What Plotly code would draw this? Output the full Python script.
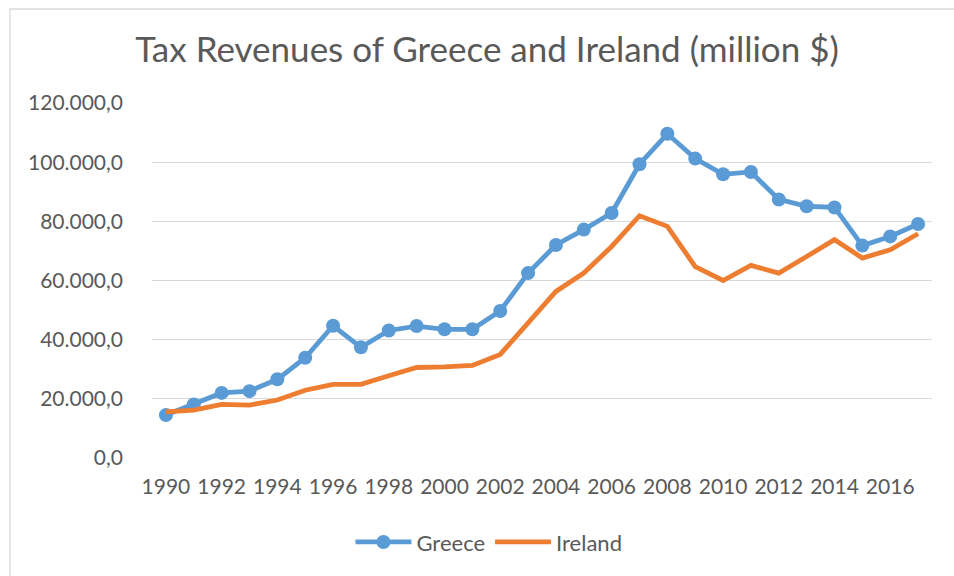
import plotly.graph_objects as go

years = list(range(1990, 2018))
greece = [14.5, 18.1, 22.0, 22.6, 26.6, 33.9, 44.7, 37.4, 43.1, 44.6, 43.5, 43.5, 49.7, 62.5,
          72.0, 77.2, 82.8, 99.3, 109.6, 101.2, 95.9, 96.7, 87.4, 85.1, 84.7, 71.8, 74.9, 79.1]
ireland = [15.6, 16.2, 18.1, 17.9, 19.6, 22.9, 24.9, 24.9, 27.8, 30.6, 30.8, 31.3, 35.0, 45.9,
           56.3, 62.5, 71.5, 81.9, 78.3, 64.7, 60.0, 65.1, 62.5, 68.1, 73.8, 67.6, 70.4, 75.8]
greece = [v * 1000 for v in greece]
ireland = [v * 1000 for v in ireland]
y_ticks = [0, 20000, 40000, 60000, 80000, 100000, 120000]

FONT = "Lato, 'Open Sans', sans-serif"
TXT = "#595959"

fig = go.Figure()
fig.add_trace(go.Scatter(x=years, y=greece, name="Greece", mode="lines+markers",
                         line=dict(color="#5B9BD5", width=4.8),
                         marker=dict(color="#5B9BD5", size=14)))
fig.add_trace(go.Scatter(x=years, y=ireland, name="Ireland", mode="lines",
                         line=dict(color="#ED7D31", width=4.8)))

fig.update_layout(
    width=954, height=576,
    margin=dict(l=152, r=22, t=103, b=118),
    paper_bgcolor="white", plot_bgcolor="white",
    separators=",.",
    font=dict(family=FONT, color=TXT, size=21),
    title=dict(text="Tax Revenues of Greece and Ireland (million $)",
               x=487 / 954, xanchor="center", y=1 - 50 / 576, yanchor="middle",
               font=dict(family=FONT, size=35, color=TXT)),
    showlegend=True,
    legend=dict(orientation="h", x=0.432, xanchor="center", y=-0.237, yanchor="middle",
                font=dict(family=FONT, size=22, color=TXT), itemwidth=56),
    xaxis=dict(range=[1989.5, 2017.5], tick0=1990, dtick=2, showgrid=False,
               zeroline=False, showline=False, ticks="", ticklabelstandoff=14,
               tickfont=dict(family=FONT, size=21, color=TXT)),
    yaxis=dict(range=[0, 120000], tickvals=y_ticks, tickformat=",.1f",
               showgrid=True, gridcolor="#D9D9D9", gridwidth=1.3, zeroline=False,
               showline=False, ticks="", ticklabelstandoff=28,
               tickfont=dict(family=FONT, size=21, color=TXT)),
    shapes=[dict(type="rect", xref="paper", yref="paper",
                 x0=(10 - 152) / 780, x1=(980 - 152) / 780,
                 y0=(458 - 600) / 355, y1=(458 - 9) / 355,
                 line=dict(color="#D9D9D9", width=1.3), fillcolor="rgba(0,0,0,0)",
                 layer="below")],
)

fig.write_html("out.html", config={"displayModeBar": False},
               post_script="document.body.style.margin='0';document.body.style.padding='0';")
